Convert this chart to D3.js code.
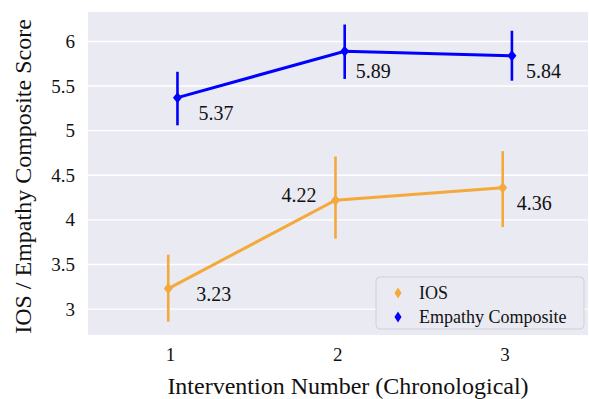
<!DOCTYPE html>
<html>
<head>
<meta charset="utf-8">
<script src="https://cdn.jsdelivr.net/npm/d3@7"></script>
<style>
  html, body { margin: 0; padding: 0; background: #fff; }
  svg { display: block; }
</style>
</head>
<body>
<svg id="chart" width="589" height="399"></svg>
<script>
// Intervention number (x categories)
const interventions = [1, 2, 3];
const yTicks = [3, 3.5, 4, 4.5, 5, 5.5, 6];

// IOS means and 95% CI bounds
const iosMean = [3.23, 4.22, 4.36];
const iosLow  = [2.86, 3.79, 3.92];
const iosHigh = [3.61, 4.71, 4.77];

// Empathy composite means and 95% CI bounds
const empMean = [5.37, 5.89, 5.84];
const empLow  = [5.06, 5.58, 5.56];
const empHigh = [5.66, 6.19, 6.12];

const seriesNames = ["IOS", "Empathy Composite"];

const FONT = "'Liberation Serif', 'Times New Roman', serif";
const plot = { left: 88, right: 588, top: 12, bottom: 335 };

const svg = d3.select("#chart").style("font-family", FONT);

const x = d3.scaleLinear().domain([0.51, 3.5]).range([plot.left, plot.right]);
const y = d3.scaleLinear().domain([2.71, 6.33]).range([plot.bottom, plot.top]);

// background panel
svg.append("rect")
  .attr("x", plot.left).attr("y", plot.top)
  .attr("width", plot.right - plot.left).attr("height", plot.bottom - plot.top)
  .attr("fill", "#eaeaf2");

// horizontal grid
svg.append("g").selectAll("line").data(yTicks).join("line")
  .attr("x1", plot.left).attr("x2", plot.right)
  .attr("y1", d => y(d)).attr("y2", d => y(d))
  .attr("stroke", "#fff").attr("stroke-width", 1.4);

// y axis
const yAxis = svg.append("g")
  .attr("transform", `translate(${plot.left},0)`)
  .call(d3.axisLeft(y).tickValues(yTicks).tickSize(0).tickPadding(13).tickFormat(d3.format("")));
yAxis.attr("font-family", null).attr("font-size", null);
yAxis.select(".domain").remove();
yAxis.selectAll("text").style("font-size", "19px").style("font-family", FONT).attr("fill", "#111");

// x axis
const xAxis = svg.append("g")
  .attr("transform", `translate(0,${plot.bottom})`)
  .call(d3.axisBottom(x).tickValues(interventions).tickSize(0).tickPadding(13).tickFormat(d3.format("d")));
xAxis.attr("font-family", null).attr("font-size", null);
xAxis.select(".domain").remove();
xAxis.selectAll("text").style("font-size", "19px").style("font-family", FONT).attr("fill", "#111");

// axis titles
svg.append("text")
  .attr("x", (plot.left + plot.right) / 2 + 10).attr("y", 394)
  .attr("text-anchor", "middle")
  .style("font-family", FONT).style("font-size", "24px").attr("fill", "#111")
  .text("Intervention Number (Chronological)");

svg.append("text")
  .attr("transform", `translate(31,${(plot.top + plot.bottom) / 2 + 3}) rotate(-90)`)
  .attr("text-anchor", "middle")
  .style("font-family", FONT).style("font-size", "24px").attr("fill", "#111")
  .text("IOS / Empathy Composite Score");

const series = [
  { name: seriesNames[0], mean: iosMean, low: iosLow, high: iosHigh, color: "#f4a93a", shift: -0.01,
    labelOffsets: [[28, 5, "start"], [-19, -5, "end"], [14, 15, "start"]] },
  { name: seriesNames[1], mean: empMean, low: empLow, high: empHigh, color: "#0000ff", shift: 0.045,
    labelOffsets: [[21, 15, "start"], [11, 20, "start"], [14, 15, "start"]] }
];

const diamond = (cx, cy, w, h) =>
  `M${cx},${cy - h / 2}L${cx + w / 2},${cy}L${cx},${cy + h / 2}L${cx - w / 2},${cy}Z`;

series.forEach(s => {
  const g = svg.append("g");
  const pts = interventions.map((d, i) => ({ xv: d + s.shift, m: s.mean[i], lo: s.low[i], hi: s.high[i], i }));

  g.selectAll("line.err").data(pts).join("line")
    .attr("x1", d => x(d.xv)).attr("x2", d => x(d.xv))
    .attr("y1", d => y(d.lo)).attr("y2", d => y(d.hi))
    .attr("stroke", s.color).attr("stroke-width", 2.6);

  g.append("path")
    .datum(pts)
    .attr("d", d3.line().x(d => x(d.xv)).y(d => y(d.m)))
    .attr("fill", "none").attr("stroke", s.color).attr("stroke-width", 3);

  g.selectAll("path.mk").data(pts).join("path")
    .attr("d", d => diamond(x(d.xv), y(d.m), 9, 11))
    .attr("fill", s.color);

  g.selectAll("text.lbl").data(pts).join("text")
    .attr("x", d => x(d.xv) + s.labelOffsets[d.i][0])
    .attr("y", d => y(d.m) + s.labelOffsets[d.i][1])
    .attr("dy", "0.35em")
    .attr("text-anchor", d => s.labelOffsets[d.i][2])
    .style("font-family", FONT).style("font-size", "20px").attr("fill", "#111")
    .text(d => d3.format(".2f")(d.m));
});

// legend
const lg = svg.append("g");
lg.append("rect")
  .attr("x", 376).attr("y", 277).attr("width", 208).attr("height", 52)
  .attr("rx", 4).attr("fill", "#eaeaf2").attr("stroke", "#d0d0d6").attr("stroke-width", 1);
series.forEach((s, i) => {
  const cy = 293 + i * 24;
  lg.append("path").attr("d", diamond(398, cy, 7, 11)).attr("fill", s.color);
  lg.append("text").attr("x", 419).attr("y", cy).attr("dy", "0.35em")
    .style("font-family", FONT).style("font-size", "18px").attr("fill", "#111")
    .text(s.name);
});
</script>
</body>
</html>
